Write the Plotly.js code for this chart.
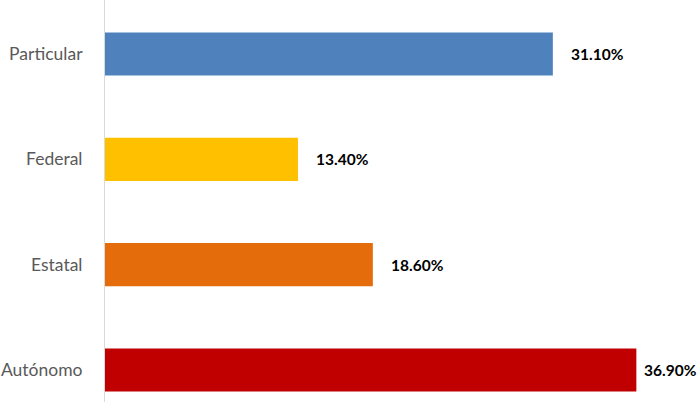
<!DOCTYPE html>
<html>
<head>
<meta charset="utf-8">
<script src="https://cdn.plot.ly/plotly-3.0.1.min.js"></script>
<style>html,body{margin:0;padding:0;background:#fff;}#chart{width:700px;height:402px;}</style>
</head>
<body>
<div id="chart"></div>
<script>
// Data (bottom to top as drawn)
const categories = ["Autónomo", "Estatal", "Federal", "Particular"];
const values = [36.9, 18.6, 13.4, 31.1];
const valueLabels = ["36.90%", "18.60%", "13.40%", "31.10%"];
const barColors = ["#C00000", "#E46C0A", "#FFC000", "#4F81BD"];

const trace = {
  type: "bar",
  orientation: "h",
  y: categories,
  x: values,
  marker: { color: barColors },
  width: 0.41,
  hoverinfo: "skip"
};

const maxVal = Math.max(...values);
const annotations = categories.map((c, i) => ({
  x: values[i],
  y: c,
  xref: "x",
  yref: "y",
  text: "<b>" + valueLabels[i] + "</b>",
  showarrow: false,
  xanchor: "left",
  yanchor: "middle",
  // the longest bar's label is pulled closer so it fits inside the page
  xshift: values[i] === maxVal ? 6 : 16,
  font: { family: "Lato, 'Open Sans', sans-serif", size: 15.5, color: "#000000" }
}));

const layout = {
  width: 700,
  height: 402,
  margin: { l: 105, r: 19, t: 0, b: 0, pad: 0 },
  paper_bgcolor: "#ffffff",
  plot_bgcolor: "#ffffff",
  showlegend: false,
  xaxis: {
    range: [0, 40],
    showgrid: false,
    zeroline: false,
    showline: false,
    showticklabels: false,
    ticks: ""
  },
  yaxis: {
    type: "category",
    range: [-0.304, 3.513],
    showgrid: false,
    zeroline: false,
    showline: true,
    linecolor: "#d9d9d9",
    linewidth: 1,
    ticks: "",
    ticklabelstandoff: 18,
    tickfont: { family: "Lato, 'Open Sans', sans-serif", size: 17.5, color: "#595959" }
  },
  annotations: annotations
};

Plotly.newPlot("chart", [trace], layout, { displayModeBar: false, staticPlot: true });
</script>
</body>
</html>
